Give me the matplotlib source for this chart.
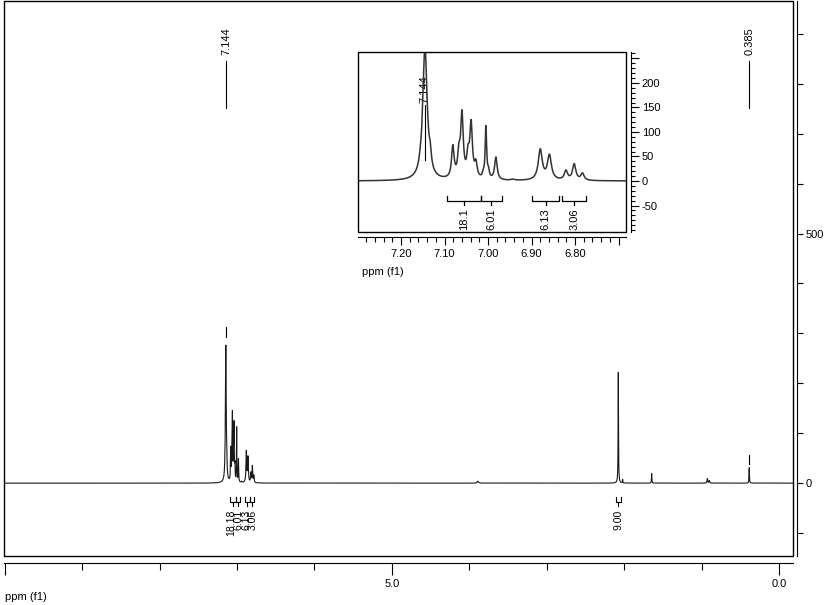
import numpy as np
import matplotlib
matplotlib.use("Agg")
import matplotlib.pyplot as plt
from matplotlib.patches import Rectangle
from matplotlib.ticker import MultipleLocator, FixedLocator

plt.rcParams['font.family'] = ['Liberation Sans', 'DejaVu Sans']
plt.rcParams['font.size'] = 8

# peak list (ppm, height, FWHM in ppm)
shifts = [7.156, 7.145, 7.133,
          7.081, 7.067, 7.060, 7.046, 7.039, 7.028,
          7.011, 7.005, 6.999, 6.982, 6.943,
          6.880, 6.859, 6.821, 6.802, 6.783,
          3.89, 2.076, 2.02, 1.645, 0.926, 0.90, 0.385]
heights = [5, 274, 25,
           64, 45, 127, 42, 108, 29,
           8, 105, 14, 46, 2,
           62, 50, 19, 33, 14,
           4, 222, 7, 19, 9, 5, 31]
widths = [0.006, 0.012, 0.006,
          0.007, 0.007, 0.007, 0.007, 0.007, 0.007,
          0.005, 0.004, 0.005, 0.007, 0.01,
          0.011, 0.011, 0.009, 0.009, 0.009,
          0.02, 0.006, 0.006, 0.006, 0.01, 0.01, 0.006]

# integrals: start, end (ppm), label
int_start = [7.095, 7.017, 6.898, 6.829, 2.11]
int_end = [7.017, 6.968, 6.838, 6.775, 2.04]
int_labels = ["18.18", "6.01", "6.13", "3.06", "9.00"]
int_labels_inset = ["18.1", "6.01", "6.13", "3.06"]
# where the labels sit under the main spectrum (they crowd together there)
int_label_x = [7.075, 6.985, 6.876, 6.795, 2.075]

# peak picks
pick_ppm = [7.144, 0.385]
pick_labels = ["7.144", "0.385"]

ppm = np.arange(-0.2, 10.02, 0.0005)
spec = np.zeros_like(ppm)
for s, h, w in zip(shifts, heights, widths):
    spec += h / (1 + (2 * (ppm - s) / w) ** 2)

PX = 0.72  # points per pixel at dpi 100

fig = plt.figure(figsize=(8.36, 6.05), dpi=100)

# ---- main spectrum ----
ax = fig.add_axes([4/836, 49/605, 789/836, 555/605])
ax.plot(ppm, spec, color='#1a1a1a', lw=0.8)
ax.set_xlim(10.01, -0.18)
ax.set_ylim(-146, 966)

ax.spines['top'].set_visible(False)
ax.spines['left'].set_visible(False)
ax.spines['bottom'].set_position(('outward', 7*PX))
ax.spines['right'].set_position(('outward', 4*PX))
ax.add_patch(Rectangle((0, 0), 1, 1, transform=ax.transAxes, fill=False,
                       ec='k', lw=1, clip_on=False, zorder=5))

ax.xaxis.set_major_locator(FixedLocator([0, 5, 10]))
ax.set_xticklabels(["0.0", "5.0", ""])
ax.xaxis.set_minor_locator(MultipleLocator(1))
ax.tick_params(axis='x', which='major', direction='out', length=12*PX, width=0.8, pad=3)
ax.tick_params(axis='x', which='minor', direction='out', length=7*PX, width=0.8)
ax.yaxis.tick_right()
ax.yaxis.set_major_locator(FixedLocator([0, 500]))
ax.yaxis.set_minor_locator(MultipleLocator(100))
ax.tick_params(axis='y', which='both', direction='out', length=6*PX, width=0.8, pad=2)

# peak labels
for p, lab in zip(pick_ppm, pick_labels):
    ax.text(p, 858, lab, rotation=90, ha='center', va='bottom')
    ax.plot([p, p], [752, 846], color='k', lw=0.8)
ax.plot([7.144, 7.144], [292, 312], color='k', lw=0.8)
ax.plot([0.385, 0.385], [38, 56], color='k', lw=0.8)

# integrals
for s, e, lab, lx in zip(int_start, int_end, int_labels, int_label_x):
    c = (s + e) / 2
    ax.plot([s, s, e, e], [-28, -38, -38, -28], color='k', lw=0.8)
    ax.plot([c, c], [-38, -46], color='k', lw=0.8)
    ax.text(lx, -54, lab, rotation=90, ha='center', va='top', fontsize=7.5)

fig.text(5/836, 1 - 597/605, "ppm (f1)", ha='left', va='center')

# ---- inset ----
axin = fig.add_axes([358/836, 373/605, 268/836, 180/605])
axin.plot(ppm, spec, color='#333333', lw=1.1)
axin.set_xlim(7.299, 6.683)
axin.set_ylim(-104, 263)
axin.spines['top'].set_visible(False)
axin.spines['left'].set_visible(False)
axin.spines['bottom'].set_position(('outward', 5*PX))
axin.spines['right'].set_position(('outward', 5*PX))
axin.add_patch(Rectangle((0, 0), 1, 1, transform=axin.transAxes, fill=False,
                         ec='k', lw=1, clip_on=False, zorder=5))
axin.xaxis.set_major_locator(FixedLocator([7.2, 7.1, 7.0, 6.9, 6.8, 6.7]))
axin.set_xticklabels(["7.20", "7.10", "7.00", "6.90", "6.80", ""])
axin.xaxis.set_minor_locator(MultipleLocator(0.02))
axin.tick_params(axis='x', which='major', direction='out', length=8*PX, width=0.8, pad=3)
axin.tick_params(axis='x', which='minor', direction='out', length=5*PX, width=0.8)
axin.yaxis.tick_right()
axin.yaxis.set_major_locator(FixedLocator([-50, 0, 50, 100, 150, 200, 250]))
axin.set_yticklabels(["-50", "0", "50", "100", "150", "200", ""])
axin.yaxis.set_minor_locator(MultipleLocator(10))
axin.tick_params(axis='y', which='major', direction='out', length=8*PX, width=0.8, pad=2)
axin.tick_params(axis='y', which='minor', direction='out', length=4*PX, width=0.8)

axin.text(7.146, 159, "7.144", rotation=90, ha='center', va='bottom', zorder=1)
axin.plot([7.144, 7.144], [43, 155], color='k', lw=0.8)

for s, e, lab in zip(int_start[:4], int_end[:4], int_labels_inset):
    c = (s + e) / 2
    axin.plot([s, s, e, e], [-30, -40, -40, -30], color='k', lw=0.9)
    axin.plot([c, c], [-40, -49], color='k', lw=0.9)
    axin.text(c, -55, lab, rotation=90, ha='center', va='top')

fig.text(362/836, 1 - 272/605, "ppm (f1)", ha='left', va='center')

fig.savefig("out.png", dpi=100)
